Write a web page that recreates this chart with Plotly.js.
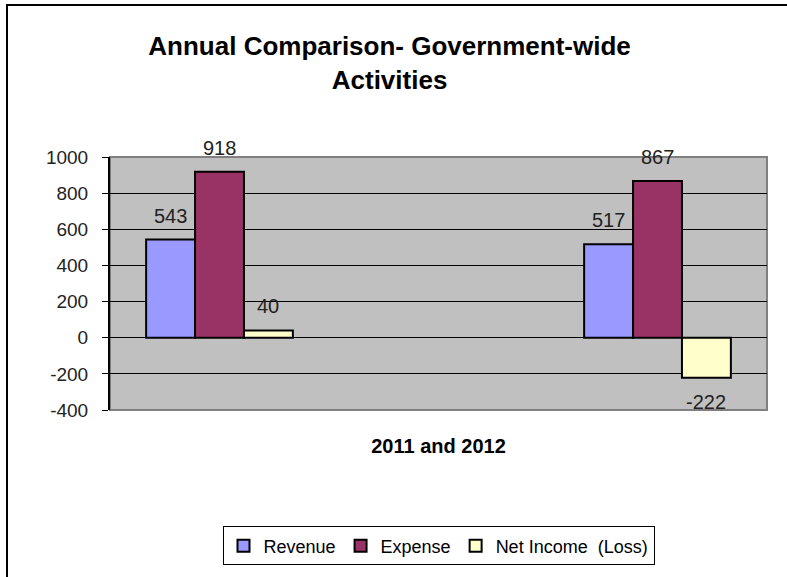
<!DOCTYPE html>
<html>
<head>
<meta charset="utf-8">
<script src="https://cdn.plot.ly/plotly-3.0.1.min.js"></script>
<style>
  html, body { margin: 0; padding: 0; overflow: hidden; background: #fff; }
  #chart { width: 787px; height: 577px; position: absolute; left: 0; top: 0; }
  #frame { position: absolute; left: 6px; top: 4px; width: 900px; height: 700px;
           border-top: 2px solid #000; border-left: 2px solid #000; pointer-events: none; }
</style>
</head>
<body>
<div id="chart"></div>
<div id="frame"></div>
<script>
// ---- data ----
const categories = ['2011', 'spacer', '2012'];
const groups = ['2011', '2012'];
const seriesNames = ['Revenue', 'Expense', 'Net Income  (Loss)'];
const revenue = [543, 517];
const expense = [918, 867];
const netIncome = [40, -222];
const yTicks = [-400, -200, 0, 200, 400, 600, 800, 1000];

const colors = ['#9999ff', '#993366', '#ffffcc'];
const seriesValues = [revenue, expense, netIncome];
const bargap = 0.33;
const fontFam = '"Liberation Sans", Arial, sans-serif';

const traces = seriesValues.map((vals, i) => ({
  type: 'bar',
  name: seriesNames[i],
  x: groups,
  y: vals,
  marker: { color: colors[i], line: { color: '#000', width: 2 } },
  hoverinfo: 'skip'
}));

// data labels via annotations (positions derived from the data + bar layout)
const barW = (1 - bargap) / seriesValues.length;
const annotations = [];
seriesValues.forEach((vals, i) => {
  vals.forEach((v, g) => {
    const idx = categories.indexOf(groups[g]);
    annotations.push({
      x: idx + (i - (seriesValues.length - 1) / 2) * barW,
      y: v,
      xref: 'x', yref: 'y',
      text: String(v),
      showarrow: false,
      yanchor: 'middle',
      yshift: v >= 0 ? 24 : -24,
      font: { family: fontFam, size: 20, color: '#222' }
    });
  });
});

const layout = {
  width: 787, height: 577,
  margin: { l: 110, r: 20, t: 157, b: 167 },
  paper_bgcolor: '#ffffff',
  plot_bgcolor: '#c0c0c0',
  barmode: 'group',
  bargap: bargap,
  bargroupgap: 0,
  showlegend: true,
  title: {
    text: '<b>Annual Comparison- Government-wide<br>Activities</b>',
    font: { family: fontFam, size: 26, color: '#000' },
    x: 0.495, xanchor: 'center', xref: 'container',
    y: 1 - 55 / 577, yanchor: 'top', yref: 'container'
  },
  xaxis: {
    type: 'category',
    categoryorder: 'array',
    categoryarray: categories,
    range: [-0.5, 2.5],
    showticklabels: false,
    ticks: '',
    showgrid: false,
    zeroline: false,
    showline: false,
    title: {
      text: '<b>2011 and 2012</b>',
      font: { family: fontFam, size: 20, color: '#000' },
      standoff: 28
    },
    fixedrange: true
  },
  yaxis: {
    range: [-400, 1000],
    tickvals: yTicks,
    ticktext: yTicks.map(String),
    ticks: 'outside', ticklen: 6, tickcolor: '#000', tickwidth: 1,
    ticklabelstandoff: 10,
    showline: true, linecolor: '#000', linewidth: 2,
    showgrid: true, gridcolor: '#000', gridwidth: 1,
    zeroline: true, zerolinecolor: '#000', zerolinewidth: 1,
    tickfont: { family: fontFam, size: 19, color: '#222' },
    fixedrange: true
  },
  legend: {
    orientation: 'h',
    x: 0.5, xanchor: 'center',
    y: -0.5375, yanchor: 'middle',
    bordercolor: '#000', borderwidth: 1,
    bgcolor: '#ffffff',
    font: { family: fontFam, size: 18, color: '#000' },
    itemclick: false, itemdoubleclick: false
  },
  shapes: [{
    type: 'rect', xref: 'paper', yref: 'paper',
    x0: 0, x1: 1, y0: 0, y1: 1,
    line: { color: '#808080', width: 2 },
    layer: 'below'
  }],
  annotations: annotations
};

Plotly.newPlot('chart', traces, layout, { displayModeBar: false, staticPlot: true });
</script>
</body>
</html>
